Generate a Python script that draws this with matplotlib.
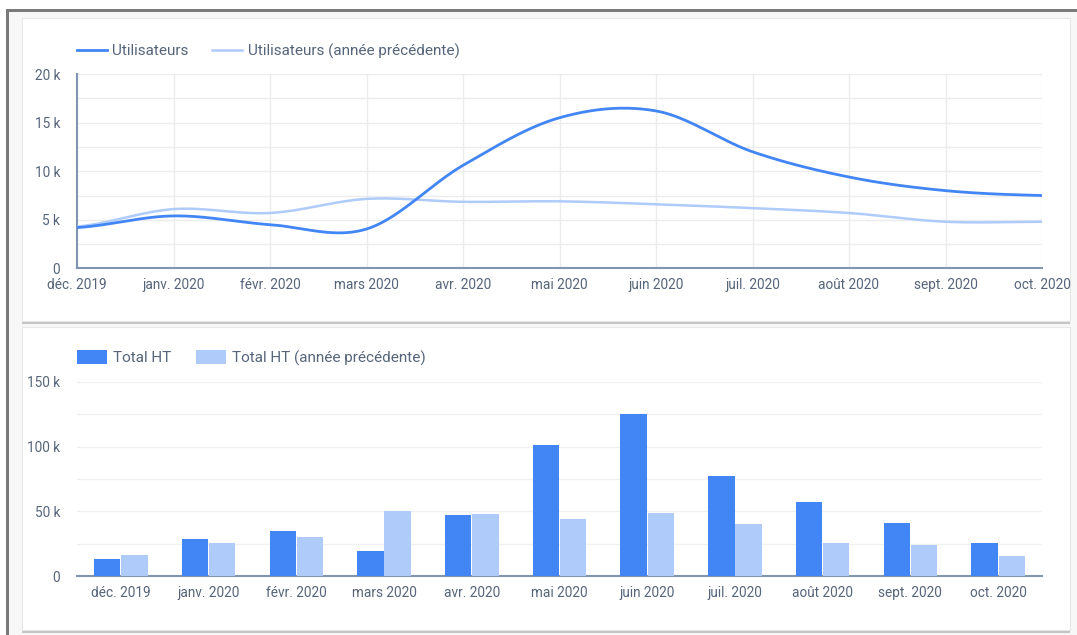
import numpy as np
import matplotlib.pyplot as plt
from matplotlib.patches import Rectangle
from matplotlib.ticker import FixedLocator, FuncFormatter

plt.rcParams['font.family'] = ['Roboto', 'DejaVu Sans']

months = ['déc. 2019', 'janv. 2020', 'févr. 2020', 'mars 2020', 'avr. 2020', 'mai 2020',
          'juin 2020', 'juil. 2020', 'août 2020', 'sept. 2020', 'oct. 2020']

# utilisateurs (milliers)
users = [4.2, 5.4, 4.5, 4.05, 10.6, 15.5, 16.2, 12.0, 9.4, 8.0, 7.5]
users_prev = [4.3, 6.1, 5.7, 7.15, 6.85, 6.9, 6.6, 6.2, 5.7, 4.8, 4.8]

# total HT (milliers)
total_ht = [13, 28.5, 35, 19.5, 47, 101.5, 125, 77.5, 57.5, 41, 25.5]
total_ht_prev = [16, 25.5, 30, 50, 48, 44, 48.5, 40, 25.5, 24, 15.5]

DARK = '#4285f4'
LIGHT = '#aecbfa'
TXT = '#56657a'
AXC = '#8195b3'
GRID = '#ececec'


def smooth(y, n=40):
    # courbe cardinale (catmull-rom) comme dans data studio
    y = np.asarray(y, float)
    m = np.zeros_like(y)
    m[1:-1] = (y[2:] - y[:-2]) / 2
    m[0] = (y[1] - y[0]) / 2
    m[-1] = (y[-1] - y[-2]) / 2
    xs, ys = [], []
    for i in range(len(y) - 1):
        t = np.linspace(0, 1, n, endpoint=(i == len(y) - 2))
        h00 = 2*t**3 - 3*t**2 + 1
        h10 = t**3 - 2*t**2 + t
        h01 = -2*t**3 + 3*t**2
        h11 = t**3 - t**2
        xs.append(i + t)
        ys.append(h00*y[i] + h10*m[i] + h01*y[i+1] + h11*m[i+1])
    return np.concatenate(xs), np.concatenate(ys)


W, H = 1077, 635
fig = plt.figure(figsize=(W/100, H/100), dpi=100)
fig.patch.set_facecolor('white')


def px_rect(x0, y0, x1, y1, z, **kw):
    fig.patches.append(Rectangle((x0/W, 1 - y1/H), (x1-x0)/W, (y1-y0)/H,
                                 transform=fig.transFigure, zorder=z, **kw))


# cadre de capture + cartes (sous les axes)
px_rect(9, 12, W, H, -5, facecolor='#f7f7f7', edgecolor='none')
px_rect(7, 9, W, 12, -4, facecolor='#7a7a7a', edgecolor='none')
px_rect(6, 9, 9, H, -4, facecolor='#7a7a7a', edgecolor='none')
for top, bot in [(18, 321), (327, 630)]:
    px_rect(22, bot, 1070, bot + 3, -3, facecolor='#c4c4c4', edgecolor='none')
    px_rect(22, top, 1070, bot, -2, facecolor='white', edgecolor='#e6e6e6', lw=0.8)

x = np.arange(len(months))

# ---- graphique du haut : lignes
ax1 = fig.add_axes([77/W, 1 - 268.4/H, 965/W, 194.4/H])
ax1.set_facecolor('none')
sx, sy = smooth(users)
px_, py_ = smooth(users_prev)
ax1.plot(px_, np.array(py_)*1000, color=LIGHT, lw=1.8, label='Utilisateurs (année précédente)', zorder=3)
ax1.plot(sx, np.array(sy)*1000, color=DARK, lw=2.0, label='Utilisateurs', zorder=4)
ax1.set_xlim(0, len(months) - 1)
ax1.set_ylim(0, 20000)
ax1.set_xticks(x)
ax1.set_xticklabels(months)
ax1.yaxis.set_major_locator(FixedLocator([0, 5000, 10000, 15000, 20000]))
ax1.yaxis.set_minor_locator(FixedLocator([2500, 7500, 12500, 17500]))
ax1.grid(True, which='both', color=GRID, lw=1)
handles, labels = ax1.get_legend_handles_labels()
ax1.legend(handles[::-1], labels[::-1], loc='center left', bbox_to_anchor=(0, 1.118), ncol=2,
           frameon=False, fontsize=11, labelcolor=TXT, handlelength=1.96,
           handletextpad=0.35, columnspacing=1.55, borderpad=0, borderaxespad=0)

# ---- graphique du bas : barres
ax2 = fig.add_axes([77/W, 1 - 576/H, 965/W, 194/H])
ax2.set_facecolor('none')
bw = 0.3
ax2.bar(x - 0.155, np.array(total_ht)*1000, width=bw, color=DARK, label='Total HT', zorder=3)
ax2.bar(x + 0.155, np.array(total_ht_prev)*1000, width=bw, color=LIGHT,
        label='Total HT (année précédente)', zorder=3)
ax2.set_xlim(-0.5, len(months) - 0.5)
ax2.set_ylim(0, 150000)
ax2.set_xticks(x)
ax2.set_xticklabels(months)
ax2.yaxis.set_major_locator(FixedLocator([0, 50000, 100000, 150000]))
ax2.yaxis.set_minor_locator(FixedLocator([25000, 75000, 125000]))
ax2.grid(True, axis='y', which='both', color='#f1f1f1', lw=1)
ax2.legend(loc='center left', bbox_to_anchor=(0, 1.124), ncol=2, frameon=False,
           fontsize=11, labelcolor=TXT, handlelength=1.96, handleheight=0.98,
           handletextpad=0.4, columnspacing=1.6, borderpad=0, borderaxespad=0)

fmt = FuncFormatter(lambda v, p: '0' if v == 0 else f'{v/1000:g} k')
for ax in (ax1, ax2):
    ax.yaxis.set_major_formatter(fmt)
    ax.set_axisbelow(True)
    for s in ('top', 'right'):
        ax.spines[s].set_visible(False)
    ax.spines['bottom'].set_color(AXC)
    ax.spines['bottom'].set_linewidth(1.5)
    ax.tick_params(which='both', length=0, labelsize=9.8, labelcolor=TXT)
    ax.tick_params(axis='y', pad=12)
    ax.tick_params(axis='x', pad=7)

ax1.spines['left'].set_color(AXC)
ax1.spines['left'].set_linewidth(1.5)
ax2.spines['left'].set_visible(False)

fig.savefig('out.png', dpi=100)
